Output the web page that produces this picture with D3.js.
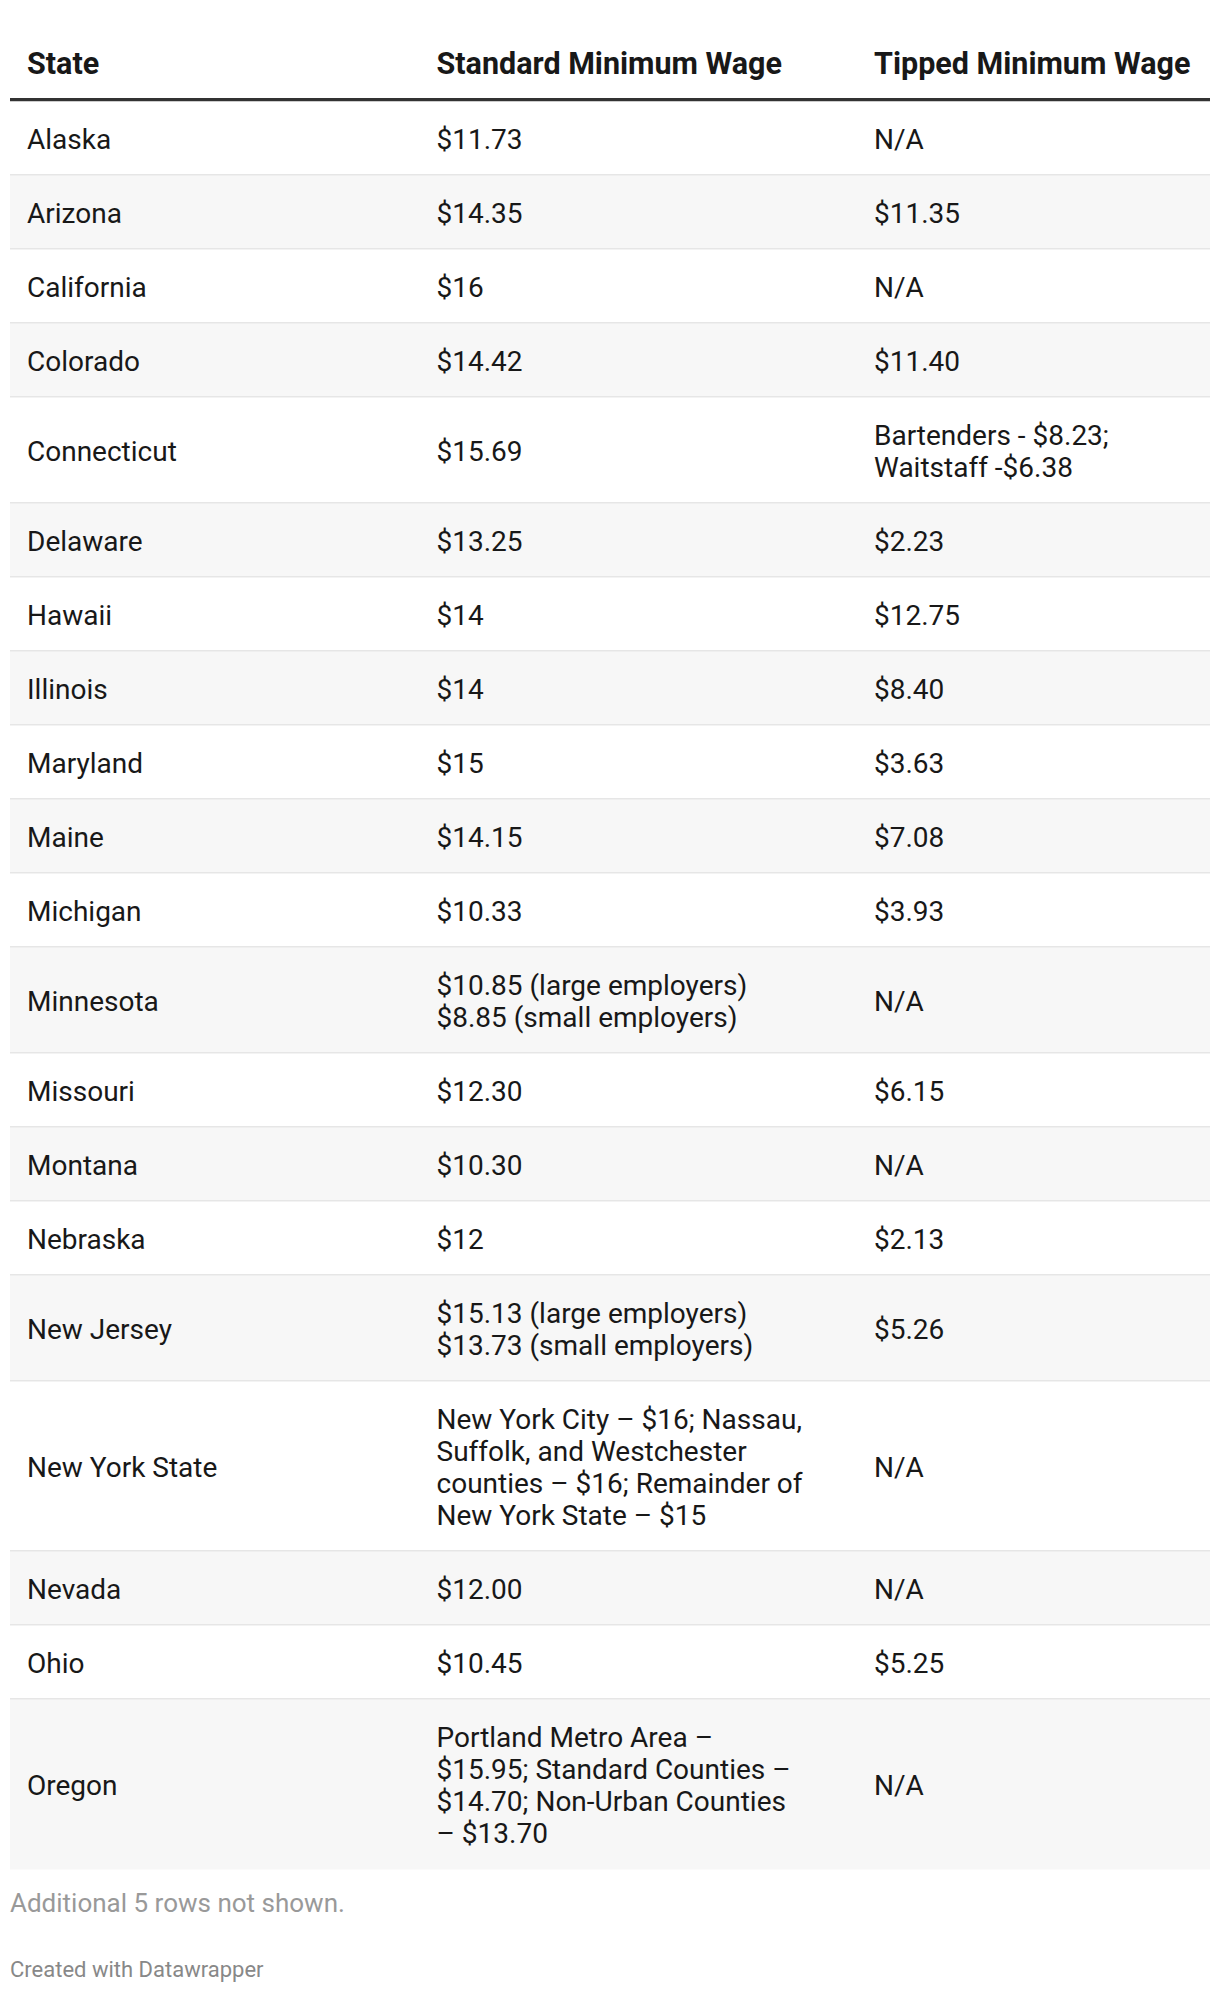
<!DOCTYPE html>
<html>
<head>
<meta charset="utf-8">
<script src="https://cdn.jsdelivr.net/npm/d3@7"></script>
<style>
  html, body { margin: 0; padding: 0; background: #ffffff; }
  svg { display: block; }
</style>
</head>
<body>
<div id="chart"></div>
<script>
const headers = ["State", "Standard Minimum Wage", "Tipped Minimum Wage"];
const states = ["Alaska", "Arizona", "California", "Colorado", "Connecticut", "Delaware", "Hawaii", "Illinois", "Maryland", "Maine", "Michigan", "Minnesota", "Missouri", "Montana", "Nebraska", "New Jersey", "New York State", "Nevada", "Ohio", "Oregon"];
const standardWage = ["$11.73", "$14.35", "$16", "$14.42", "$15.69", "$13.25", "$14", "$14", "$15", "$14.15", "$10.33",
  "$10.85 (large employers)\n$8.85 (small employers)", "$12.30", "$10.30", "$12",
  "$15.13 (large employers)\n$13.73 (small employers)",
  "New York City \u2013 $16; Nassau,\nSuffolk, and Westchester\ncounties \u2013 $16; Remainder of\nNew York State \u2013 $15",
  "$12.00", "$10.45",
  "Portland Metro Area \u2013\n$15.95; Standard Counties \u2013\n$14.70; Non-Urban Counties\n\u2013 $13.70"];
const tippedWage = ["N/A", "$11.35", "N/A", "$11.40", "Bartenders - $8.23;\nWaitstaff -$6.38", "$2.23", "$12.75", "$8.40", "$3.63", "$7.08", "$3.93", "N/A", "$6.15", "N/A", "$2.13", "$5.26", "N/A", "N/A", "$5.25", "N/A"];
const notes = ["Additional 5 rows not shown.", "Created with Datawrapper"];

const W = 1220, H = 1994;
const tableLeft = 10, tableRight = 1210;
const headerBaseline = 74, headerLineTop = 98, headerLineH = 3.5;
const lineH = 32, rowPad = 42, firstBaseOffset = 26;
const fontBody = 28, fontHead = 30.5;

const rows = states.map((s, i) => ({
  cells: [s, standardWage[i], tippedWage[i]].map(t => t.split("\n"))
}));
rows.forEach(r => { r.lines = d3.max(r.cells, c => c.length); r.h = rowPad + lineH * r.lines; });
const ends = d3.cumsum(rows, r => r.h);
const y0 = headerLineTop + headerLineH;
rows.forEach((r, i) => { r.y = y0 + (i ? ends[i - 1] : 0); });

const x = d3.scaleOrdinal().domain([0, 1, 2]).range([27, 436.5, 874]);
const y = d3.scaleLinear().domain([0, ends[ends.length - 1]]).range([y0, y0 + ends[ends.length - 1]]);

const svg = d3.select("#chart").append("svg").attr("width", W).attr("height", H)
  .style("font-family", "Roboto, 'Noto Sans', sans-serif");

// header
svg.append("g").selectAll("text").data(headers).join("text")
  .attr("x", (d, i) => x(i)).attr("y", headerBaseline)
  .attr("font-size", fontHead).attr("font-weight", 700).attr("fill", "#181818")
  .text(d => d);
svg.append("rect").attr("x", tableLeft).attr("y", headerLineTop)
  .attr("width", tableRight - tableLeft).attr("height", headerLineH).attr("fill", "#333333");

// rows
const rg = svg.append("g").selectAll("g").data(rows).join("g")
  .attr("transform", d => `translate(0,${y(d.y - y0)})`);
rg.append("rect").attr("x", tableLeft).attr("y", 0)
  .attr("width", tableRight - tableLeft).attr("height", d => d.h)
  .attr("fill", (d, i) => i % 2 ? "#f7f7f7" : "#ffffff");
rg.filter((d, i) => i < rows.length - 1).append("rect")
  .attr("x", tableLeft).attr("y", d => d.h - 1.5)
  .attr("width", tableRight - tableLeft).attr("height", 2.5).attr("fill", "#e6e6e6");

rg.each(function (r) {
  const g = d3.select(this);
  r.cells.forEach((lines, ci) => {
    const top = r.h / 2 - (lines.length * lineH) / 2;
    g.append("text").attr("font-size", fontBody).attr("fill", "#181818")
      .selectAll("tspan").data(lines).join("tspan")
      .attr("x", x(ci)).attr("y", (d, li) => top + firstBaseOffset + li * lineH)
      .text(d => d);
  });
});

// notes
svg.append("g").selectAll("text").data(notes).join("text")
  .attr("x", tableLeft).attr("y", (d, i) => i ? 1977 : 1912)
  .attr("font-size", (d, i) => i ? 22 : 26).attr("fill", (d, i) => i ? "#888888" : "#999999")
  .text(d => d);
</script>
</body>
</html>
